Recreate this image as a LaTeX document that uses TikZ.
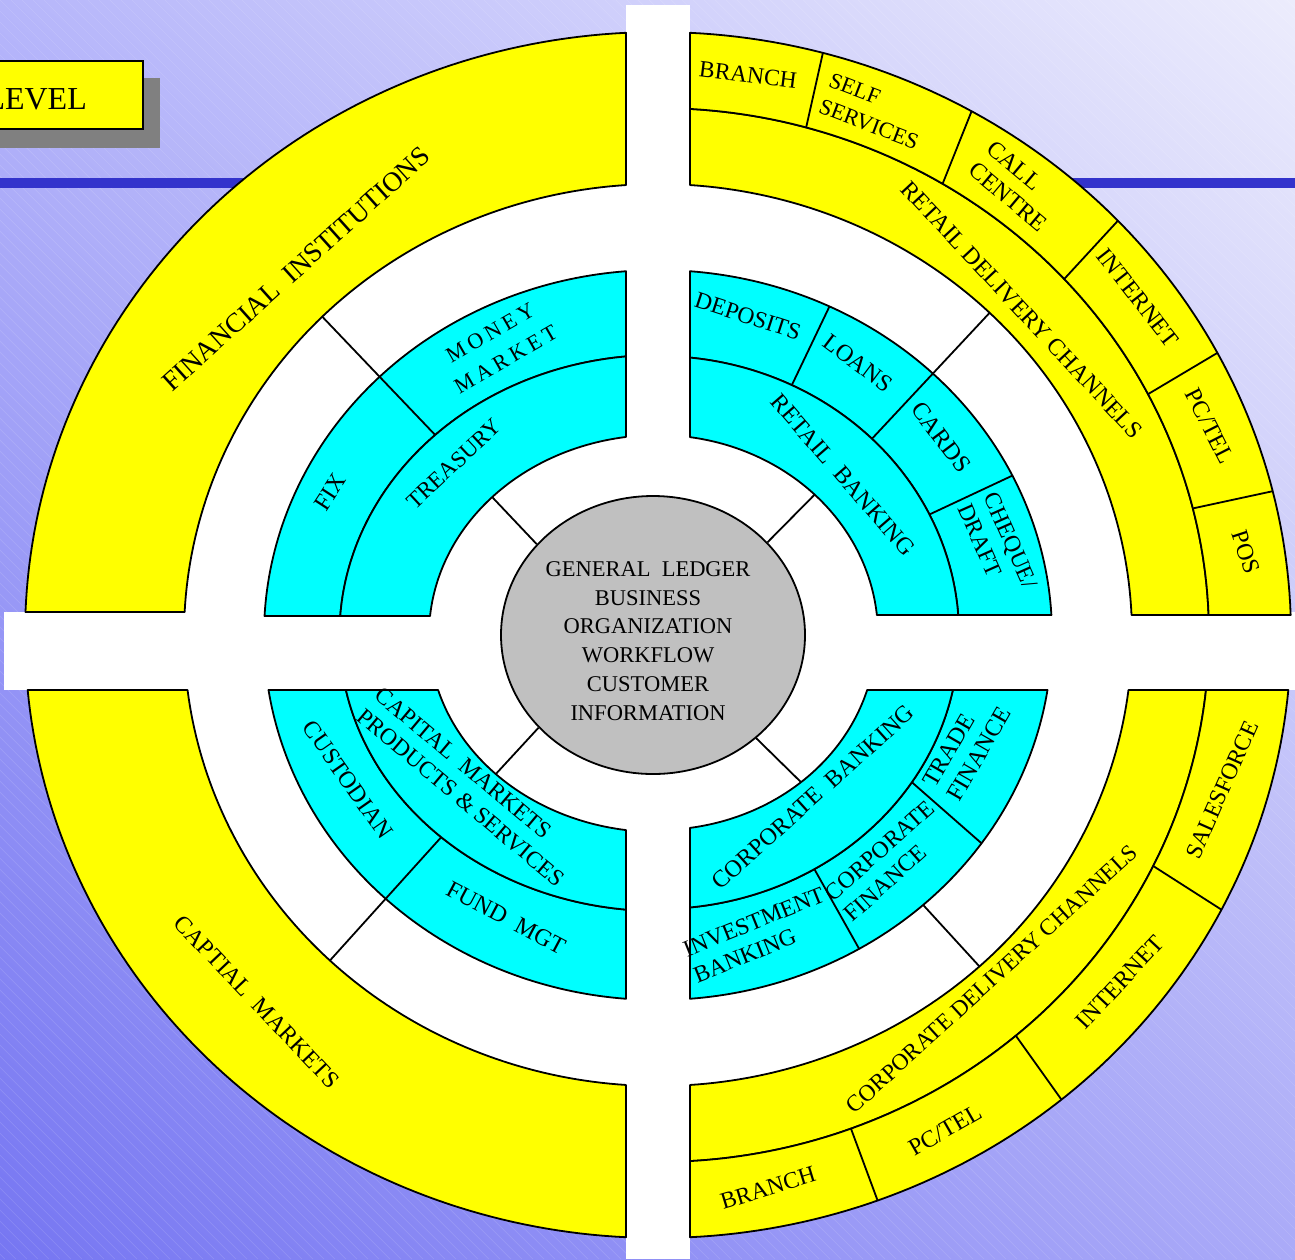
\documentclass[tikz,border=0pt]{standalone}
\usepackage{fontspec}
\setmainfont{Liberation Serif}
\usetikzlibrary{shapes.geometric,shadings}

\definecolor{ringyellow}{HTML}{FFFF00}
\definecolor{ringcyan}{HTML}{00FFFF}
\definecolor{coregrey}{HTML}{C0C0C0}
\definecolor{ruleblue}{HTML}{3333CC}
\definecolor{shadowgrey}{HTML}{808080}
\definecolor{skyUL}{HTML}{B6B6FA}
\definecolor{skyUR}{HTML}{ECECFC}
\definecolor{skyLL}{HTML}{7676F2}
\definecolor{skyLR}{HTML}{AAAAF8}

% All rings are ellipses centred on (658,635), cut by the white cross.
% quarter band: x sign, y sign, x cut offset, y cut offset, inner rx, inner ry, outer rx, outer ry, style
\newcommand\bandpiece[9]{%
  \pgfmathsetmacro\bpOa{asin(#4/#8)}\pgfmathsetmacro\bpOb{acos(#3/#7)}%
  \pgfmathsetmacro\bpIa{asin(#4/#6)}\pgfmathsetmacro\bpIb{acos(#3/#5)}%
  \filldraw[#9] plot[domain=\bpOa:\bpOb,samples=80] ({658+#1*#7*cos(\x)},{635+#2*#8*sin(\x)})
    -- plot[domain=\bpIb:\bpIa,samples=80] ({658+#1*#5*cos(\x)},{635+#2*#6*sin(\x)}) -- cycle;}
% straight divider between two of the ellipses: rx a, ry a, rx b, ry b, angle a, angle b
\newcommand\divider[6]{%
  \draw[edge] ({658+#1*cos(#5)},{635+#2*sin(#5)}) -- ({658+#3*cos(#6)},{635+#4*sin(#6)});}

\begin{document}
\begin{tikzpicture}[x=1pt,y=-1pt,
  edge/.style={draw=black,line width=1.8pt},
  band/.style={draw=black,line width=1.8pt,line join=round},
  yband/.style={band,fill=ringyellow},
  cband/.style={band,fill=ringcyan},
  lbl/.style={inner sep=0pt,font=\fontsize{24}{28}\selectfont},
  hatch/.style={white,opacity=0.12,line width=0.7pt}]
\useasboundingbox (0,0) rectangle (1295,1259);
\begin{scope}
\clip (0,0) rectangle (1295,1259);

% backdrop
\shade[upper left=skyUL,upper right=skyUR,lower left=skyLL,lower right=skyLR] (0,0) rectangle (1295,1259);
\foreach \k in {-1265,-1254,...,1300} {\draw[hatch] (\k,0) -- ++(1259,1259);}
\fill[ruleblue] (0,178) rectangle (1295,188);

% title box
\fill[shadowgrey] (-10,78) rectangle (160,148);
\node[draw=black,line width=1.8pt,fill=ringyellow,anchor=north west,inner sep=0pt,
      minimum width=152pt,minimum height=68pt] (titlebox) at (-10,60) {};
\node[inner sep=0pt,anchor=base east,font=\fontsize{32}{36}\selectfont] (title) at (87,109) {LEVEL};

% white cross and white field inside the outer ring
\fill[white] (626,5) rectangle (690,1259);
\fill[white] (4,612) rectangle (1295,690);
\fill[white] plot[domain=0:360,samples=160] ({658+474*cos(\x)},{635+451*sin(\x)}) -- cycle;

% outer (yellow) rings
\bandpiece{-1}{-1}{32}{23}{474}{451}{633}{603}{yband}
\bandpiece{1}{-1}{32}{20}{474}{451}{551}{527}{yband}
\bandpiece{1}{-1}{32}{20}{551}{527}{633}{603}{yband}
\bandpiece{1}{1}{32}{55}{474}{451}{551}{527}{yband}
\bandpiece{1}{1}{32}{55}{551}{527}{633}{603}{yband}
\bandpiece{-1}{1}{32}{55}{474}{451}{633}{603}{yband}

% inner (cyan) rings
\bandpiece{-1}{-1}{32}{19}{318.5}{280}{394}{365}{cband}
\bandpiece{-1}{-1}{32}{19}{229}{200}{318.5}{280}{cband}
\bandpiece{1}{-1}{32}{20}{301}{279}{394}{365}{cband}
\bandpiece{1}{-1}{32}{20}{220}{200}{301}{279}{cband}
\bandpiece{1}{1}{32}{55}{301}{274}{394}{365}{cband}
\bandpiece{1}{1}{32}{55}{218}{195}{301}{274}{cband}
\bandpiece{-1}{1}{32}{55}{318.5}{276}{394}{365}{cband}
\bandpiece{-1}{1}{32}{55}{229}{197}{318.5}{276}{cband}

% segment dividers
\foreach \a/\b in {285.6/285.1,301.1/299.7,317.5/316.6,332.8/332.1,346.1/346.2}
  {\divider{551}{527}{633}{603}{\a}{\b}}
\foreach \a/\b in {26/27.1,49.5/50.4,69.5/69.7}
  {\divider{551}{527}{633}{603}{\a}{\b}}
\foreach \a/\b in {296.4/295.8,334.4/334.1}
  {\divider{301}{279}{394}{365}{\a}{\b}}
\foreach \a/\b in {32.5/34.8,58.7/59.3}
  {\divider{301}{274}{394}{365}{\a}{\b}}

% spokes between the rings
\coordinate (tlM) at ({658+318.5*cos(225.6)},{635+280*sin(225.6)});
\coordinate (tlY) at ({658+474*cos(224.9)},{635+451*sin(224.9)});
\coordinate (trM) at ({658+301*cos(315.3)},{635+279*sin(315.3)});
\coordinate (trY) at ({658+474*cos(314.4)},{635+451*sin(314.4)});
\coordinate (brO) at ({658+394*cos(47.7)},{635+365*sin(47.7)});
\coordinate (brY) at ({658+474*cos(47.3)},{635+451*sin(47.3)});
\coordinate (blM) at ({658+318.5*cos(132.9)},{635+276*sin(132.9)});
\coordinate (blY) at ({658+474*cos(133.8)},{635+451*sin(133.8)});
\draw[edge] (tlM) -- (tlY);
\draw[edge] (trM) -- (trY);
\draw[edge] (brO) -- (brY);
\draw[edge] (blM) -- (blY);

% core
\node[ellipse,draw=black,line width=1.8pt,fill=coregrey,inner sep=0pt,
      minimum width=304pt,minimum height=278pt] (core) at (653,635) {};
\coordinate (tlC) at ({658+229*cos(223.6)},{635+200*sin(223.6)});
\coordinate (trC) at ({658+220*cos(315.4)},{635+200*sin(315.4)});
\coordinate (blC) at ({658+229*cos(135.1)},{635+197*sin(135.1)});
\coordinate (brC) at ({658+218*cos(49)},{635+195*sin(49)});
\draw[edge] (tlC) -- (core.142);
\draw[edge] (trC) -- (core.39);
\draw[edge] (blC) -- (core.219);
\draw[edge] (brC) -- (core.315);
\node[inner sep=0pt,align=center,font=\fontsize{22.5}{28.8}\selectfont] (coretext) at (648,641)
  {GENERAL\ \ LEDGER\\BUSINESS\\ORGANIZATION\\WORKFLOW\\CUSTOMER\\INFORMATION};

% top left labels
\node[lbl,font=\fontsize{27.5}{32}\selectfont,rotate=42] (finst) at (296,269) {FINANCIAL\ \ INSTITUTIONS};
\node[lbl,font=\fontsize{22}{31}\selectfont\addfontfeatures{LetterSpace=20},rotate=30,align=center] (money) at (498,346) {MONEY\\MARKET};
\node[lbl,rotate=57] (fix) at (330,492) {FIX};
\node[lbl,font=\fontsize{23}{28}\selectfont,rotate=43] (treasury) at (454,464) {TREASURY};

% top right labels
\node[lbl,font=\fontsize{23.5}{28}\selectfont,rotate=-7] (branchA) at (748,75) {BRANCH};
\node[lbl,font=\fontsize{22.5}{28}\selectfont,rotate=-21,align=left] (self) at (874,111) {SELF\\SERVICES};
\node[lbl,rotate=-40,align=left] (call) at (1017,186) {CALL\\CENTRE};
\node[lbl,rotate=-52] (internetA) at (1138,298) {INTERNET};
\node[lbl,rotate=-63] (pctelA) at (1210,426) {PC/TEL};
\node[lbl,rotate=-72] (pos) at (1246,552) {POS};
\node[lbl,rotate=-47] (retaildc) at (1022,310) {RETAIL DELIVERY CHANNELS};
\node[lbl,font=\fontsize{23.5}{28}\selectfont,rotate=-18] (deposits) at (748,316) {DEPOSITS};
\node[lbl,rotate=-37] (loans) at (858,363) {LOANS};
\node[lbl,font=\fontsize{24.5}{28}\selectfont,rotate=-53] (cards) at (941,437) {CARDS};
\node[lbl,font=\fontsize{23.5}{28}\selectfont,rotate=-66,align=left] (cheque) at (998,546) {CHEQUE/\\DRAFT};
\node[lbl,rotate=-49] (retailbk) at (843,475) {RETAIL\ \ BANKING};

% bottom left labels
\node[lbl,rotate=-46.6] (capmkts) at (257,1002) {CAPTIAL\ \ MARKETS};
\node[lbl,rotate=-55] (custodian) at (348,780) {CUSTODIAN};
\node[lbl,font=\fontsize{23.5}{28}\selectfont,rotate=-40,align=left] (cmps) at (470,787) {CAPITAL\ \ MARKETS\\PRODUCTS \& SERVICES};
\node[lbl,rotate=-28] (fund) at (506,918) {FUND\ \ MGT};

% bottom right labels
\node[lbl,rotate=42] (corpbk) at (813,797) {CORPORATE\ \ BANKING};
\node[lbl,rotate=60,align=left] (trade) at (967,747) {TRADE\\FINANCE};
\node[lbl,font=\fontsize{23.5}{28}\selectfont,rotate=42,align=left] (corpfin) at (889,861) {CORPORATE\\FINANCE};
\node[lbl,font=\fontsize{23.5}{28}\selectfont,rotate=22,align=left] (invest) at (759,935) {INVESTMENT\\BANKING};
\node[lbl,font=\fontsize{23.5}{28}\selectfont,rotate=66] (sales) at (1222,790) {SALESFORCE};
\node[lbl,rotate=47] (internetB) at (1120,982) {INTERNET};
\node[lbl,rotate=30] (pctelB) at (945,1130) {PC/TEL};
\node[lbl,font=\fontsize{23.5}{28}\selectfont,rotate=17] (branchB) at (768,1188) {BRANCH};
\node[lbl,font=\fontsize{23.2}{28}\selectfont,rotate=42.4] (corpdc) at (992,979) {CORPORATE DELIVERY CHANNELS};
\end{scope}
\end{tikzpicture}
\end{document}
